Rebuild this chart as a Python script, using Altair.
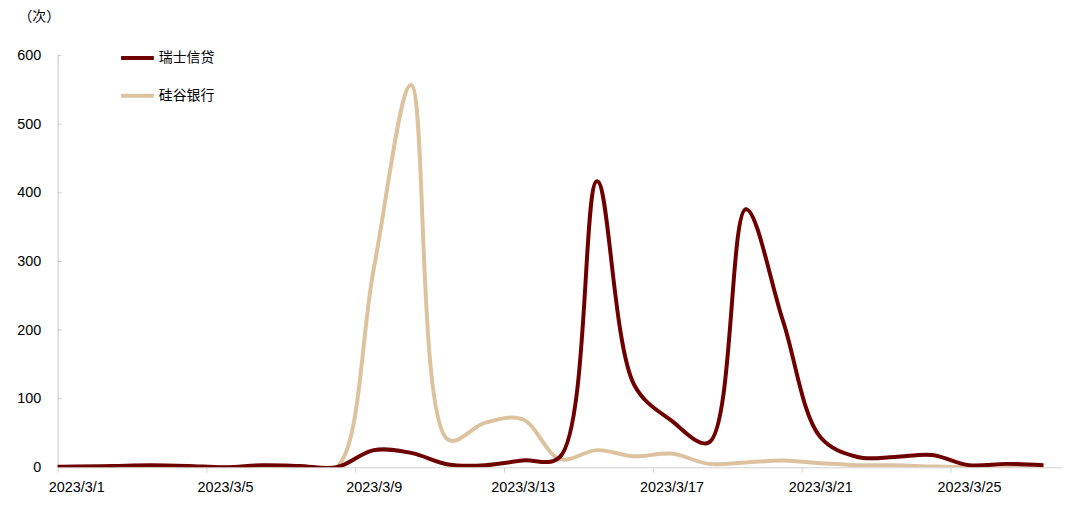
import json
import altair as alt
import pandas as pd

# first entry is the day before the first labelled date (line runs in from the axis edge)
dates = ["2023/2/28"] + [f"2023/3/{d}" for d in range(1, 28)]
credit_suisse = [1, 1, 2, 3, 2, 0, 3, 2, 0, 25, 21, 4, 3, 10, 15, 417, 120, 68, 36, 376, 213, 44, 15, 15, 18, 3, 5, 3]
svb = [0, 0, 0, 0, 0, 0, 0, 0, 0, 290, 557, 40, 65, 70, 12, 25, 16, 20, 5, 7, 10, 6, 3, 3, 1, 0, 0, 0]
series_names = ["瑞士信贷", "硅谷银行"]
series_colors = ["#6e0000", "#dcc29e"]
x_tick_labels = ["2023/3/1", "2023/3/5", "2023/3/9", "2023/3/13", "2023/3/17", "2023/3/21", "2023/3/25"]
y_ticks = [0, 100, 200, 300, 400, 500, 600]

rows = []
for i, d in enumerate(dates):
    rows.append({"idx": i - 1, "date": d, "series": series_names[1], "value": svb[i]})
for i, d in enumerate(dates):
    rows.append({"idx": i - 1, "date": d, "series": series_names[0], "value": credit_suisse[i]})
df = pd.DataFrame(rows)

FONT = "Liberation Sans, Arial, Noto Sans CJK SC"

n_days = len(dates) - 1
x_vals = [i * 4 - 0.5 for i in range(len(x_tick_labels))]
label_expr = json.dumps(x_tick_labels) + "[round((datum.value + 0.5) / 4)]"

x_enc = alt.X(
    "idx:Q",
    scale=alt.Scale(domain=[-0.5, n_days - 0.5], nice=False, zero=False),
    axis=alt.Axis(
        values=x_vals,
        labelExpr=label_expr,
        labelOffset=18.75,
        labelFontSize=14.5,
        labelFont=FONT,
        labelColor="#000000",
        labelOverlap=False,
        labelFlush=False,
        labelBound=False,
        labelPadding=8,
        tickSize=5,
        tickColor="#d0d0d0",
        domainColor="#d0d0d0",
        grid=False,
        title=None,
    ),
)

y_enc = alt.Y(
    "value:Q",
    scale=alt.Scale(domain=[0, 600], nice=False),
    axis=alt.Axis(
        values=y_ticks,
        labelFontSize=14.5,
        labelFont=FONT,
        labelColor="#000000",
        labelPadding=17,
        tickSize=0,
        domainColor="#c8c8c8",
        grid=False,
        title="（次）",
        titleAngle=0,
        titleFont=FONT,
        titleFontSize=14,
        titleFontWeight="normal",
        titleColor="#000000",
        titleX=-40,
        titleY=-39,
        titleAlign="left",
        titleBaseline="middle",
    ),
)

color_enc = alt.Color(
    "series:N",
    scale=alt.Scale(domain=series_names, range=series_colors),
    legend=alt.Legend(
        orient="none",
        legendX=62,
        legendY=-16,
        title=None,
        symbolType="stroke",
        symbolSize=1089,
        symbolStrokeWidth=4,
        labelFontSize=14,
        labelFont=FONT,
        labelColor="#000000",
        labelOffset=3,
        rowPadding=11,
    ),
)

base = alt.Chart(df)
tan = base.transform_filter(alt.datum.series == series_names[1]).mark_line(
    interpolate="catmull-rom", strokeWidth=4, clip=True
).encode(x=x_enc, y=y_enc, color=color_enc)
dark = base.transform_filter(alt.datum.series == series_names[0]).mark_line(
    interpolate="catmull-rom", strokeWidth=4, clip=True
).encode(x=x_enc, y=y_enc, color=color_enc)

ticks = alt.Chart(pd.DataFrame({"value": y_ticks})).mark_rule(color="#c8c8c8", strokeWidth=1).encode(
    y=alt.Y("value:Q"), x=alt.value(0), x2=alt.value(4)
)

chart = alt.layer(ticks, tan, dark).properties(
    width=1012.5,
    height=415,
    autosize=alt.AutoSizeParams(type="none"),
    padding={"left": 50, "top": 46, "right": 10, "bottom": 30},
).configure_view(stroke=None)

chart.save("out.html", embed_options={"renderer": "svg", "actions": False})
